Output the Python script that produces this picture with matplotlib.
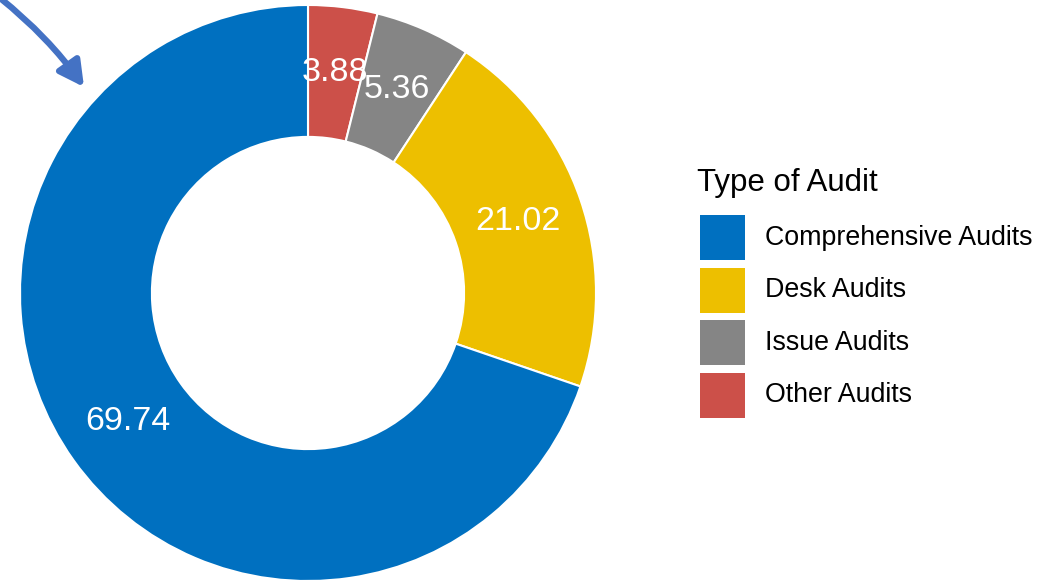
import matplotlib
matplotlib.use("Agg")
import matplotlib.pyplot as plt
from matplotlib.patches import Rectangle, FancyArrowPatch

plt.rcParams['font.family'] = ['Liberation Sans', 'DejaVu Sans']

# datos del grafico (orden de la leyenda)
categorias = ['Comprehensive Audits', 'Desk Audits', 'Issue Audits', 'Other Audits']
valores = [69.74, 21.02, 5.36, 3.88]
colores = ['#0070C0', '#EDBF00', '#858585', '#CC5049']
titulo_leyenda = 'Type of Audit'

W, H = 1058, 580
fig = plt.figure(figsize=(W / 100, H / 100), dpi=100)

# anillo: centro (308, 293) px, radio 288 px
cx, cy, r = 308, 293, 288
ax = fig.add_axes([(cx - r) / W, (H - cy - r) / H, 2 * r / W, 2 * r / H])
ax.axis('off')

wedges, textos, autotextos = ax.pie(
    valores[::-1], colors=colores[::-1], startangle=90, counterclock=False,
    radius=1, autopct=lambda p: f'{p:.2f}', pctdistance=0.77,
    wedgeprops=dict(width=0.458, edgecolor='white', linewidth=1.5),
    textprops=dict(color='white', fontsize=24.5))
ax.set_xlim(-1, 1)
ax.set_ylim(-1, 1)

# leyenda manual
fig.text(697 / W, 1 - 183 / H, titulo_leyenda, fontsize=22.5, ha='left', va='center')
for i, (cat, col) in enumerate(zip(categorias, colores)):
    top = 215 + i * 52.5
    fig.patches.append(Rectangle((700 / W, 1 - (top + 45) / H), 45 / W, 45 / H,
                                 transform=fig.transFigure, facecolor=col,
                                 edgecolor='none'))
    fig.text(765 / W, 1 - (top + 22.5) / H, cat, fontsize=19.3, ha='left', va='center')

# flecha azul
flecha = FancyArrowPatch((0 / W, 1 - (-2) / H), (84 / W, 1 - 87 / H),
                         transform=fig.transFigure, connectionstyle='arc3,rad=-0.07',
                         arrowstyle='-|>,head_length=15,head_width=8',
                         shrinkA=0, shrinkB=0,
                         color='#4472C4', linewidth=4.5)
fig.patches.append(flecha)

fig.savefig('out.png', dpi=100)
